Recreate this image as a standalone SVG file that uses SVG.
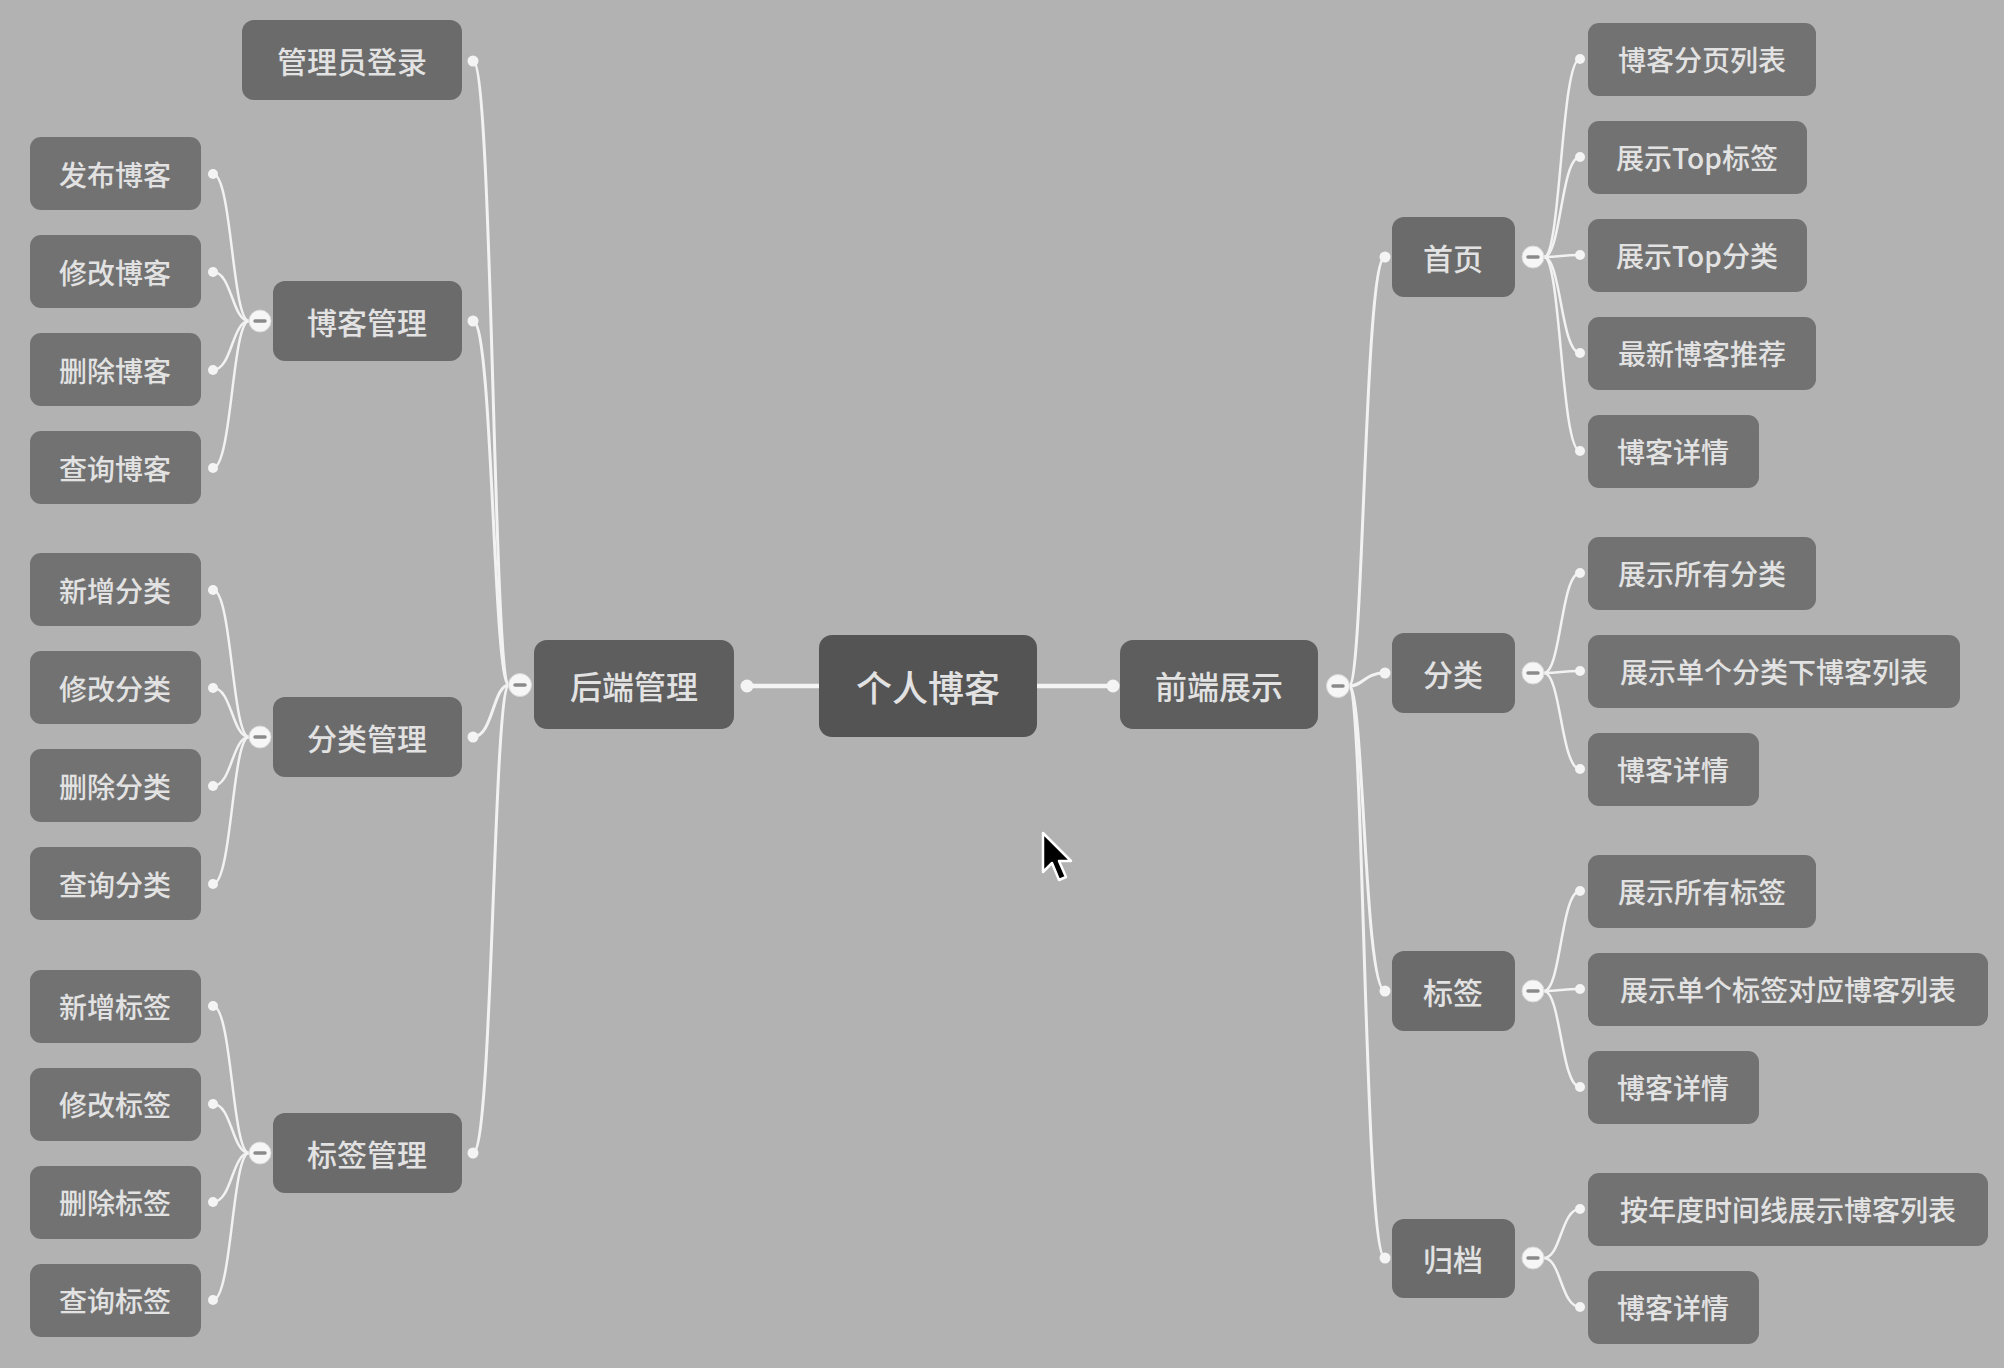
<svg xmlns="http://www.w3.org/2000/svg" width="2004" height="1368" viewBox="0 0 2004 1368">
<style>
.bg{fill:#b2b2b2}
.n0{fill:#545454}
.n1{fill:#5e5e5e}
.n2{fill:#6b6b6b}
.lf{fill:#727272}
text{font-family:"Noto Sans CJK SC","Noto Sans CJK TC",sans-serif;font-weight:500;fill:#e2e2e2;text-anchor:middle;dominant-baseline:central}
.t0{font-size:36px}
.t1{font-size:32px}
.t2{font-size:30px}
.tl{font-size:28px}
.c{fill:none;stroke:#f2f2f2;stroke-width:2.5}
.cm{fill:none;stroke:#f2f2f2;stroke-width:3}
.ct{fill:none;stroke:#f4f4f4;stroke-width:4.5}
.dot{fill:#f4f4f4}
.col{fill:#f6f6f6;stroke:#d8d8d8;stroke-width:1}
.minus{stroke:#8a8a8a;stroke-width:3.5;stroke-linecap:round}
</style>
<rect class="bg" x="0" y="0" width="2004" height="1368"/>

<g id="connectors">
  <line class="ct" x1="747" y1="686" x2="819" y2="686"/>
  <line class="ct" x1="1037" y1="686" x2="1113" y2="686"/>
  <circle class="dot" cx="747" cy="686" r="6.5"/>
  <circle class="dot" cx="1113" cy="686" r="6.5"/>
  <path class="cm" d="M509 685 C493 685 493 61 473 61"/>
  <path class="cm" d="M509 685 C493 685 493 321 473 321"/>
  <path class="cm" d="M509 685 C493 685 493 737 473 737"/>
  <path class="cm" d="M509 685 C493 685 493 1153 473 1153"/>
  <circle class="dot" cx="473" cy="61" r="5.5"/>
  <circle class="dot" cx="473" cy="321" r="5.5"/>
  <circle class="dot" cx="473" cy="737" r="5.5"/>
  <circle class="dot" cx="473" cy="1153" r="5.5"/>
  <path class="c" d="M249 321 C232 321 232 174 213 174"/>
  <path class="c" d="M249 321 C232 321 232 272 213 272"/>
  <path class="c" d="M249 321 C232 321 232 370 213 370"/>
  <path class="c" d="M249 321 C232 321 232 468 213 468"/>
  <circle class="dot" cx="213" cy="174" r="5"/>
  <circle class="dot" cx="213" cy="272" r="5"/>
  <circle class="dot" cx="213" cy="370" r="5"/>
  <circle class="dot" cx="213" cy="468" r="5"/>
  <path class="c" d="M249 737 C232 737 232 590 213 590"/>
  <path class="c" d="M249 737 C232 737 232 688 213 688"/>
  <path class="c" d="M249 737 C232 737 232 786 213 786"/>
  <path class="c" d="M249 737 C232 737 232 884 213 884"/>
  <circle class="dot" cx="213" cy="590" r="5"/>
  <circle class="dot" cx="213" cy="688" r="5"/>
  <circle class="dot" cx="213" cy="786" r="5"/>
  <circle class="dot" cx="213" cy="884" r="5"/>
  <path class="c" d="M249 1153 C232 1153 232 1006 213 1006"/>
  <path class="c" d="M249 1153 C232 1153 232 1104 213 1104"/>
  <path class="c" d="M249 1153 C232 1153 232 1202 213 1202"/>
  <path class="c" d="M249 1153 C232 1153 232 1300 213 1300"/>
  <circle class="dot" cx="213" cy="1006" r="5"/>
  <circle class="dot" cx="213" cy="1104" r="5"/>
  <circle class="dot" cx="213" cy="1202" r="5"/>
  <circle class="dot" cx="213" cy="1300" r="5"/>
  <path class="cm" d="M1349 686 C1364 686 1364 257 1385 257"/>
  <path class="cm" d="M1349 686 C1364 686 1364 673 1385 673"/>
  <path class="cm" d="M1349 686 C1364 686 1364 991 1385 991"/>
  <path class="cm" d="M1349 686 C1364 686 1364 1258 1385 1258"/>
  <circle class="dot" cx="1385" cy="257" r="5.5"/>
  <circle class="dot" cx="1385" cy="673" r="5.5"/>
  <circle class="dot" cx="1385" cy="991" r="5.5"/>
  <circle class="dot" cx="1385" cy="1258" r="5.5"/>
  <path class="c" d="M1544 257 C1561 257 1561 59 1580 59"/>
  <path class="c" d="M1544 257 C1561 257 1561 157 1580 157"/>
  <path class="c" d="M1544 257 C1561 257 1561 255 1580 255"/>
  <path class="c" d="M1544 257 C1561 257 1561 353 1580 353"/>
  <path class="c" d="M1544 257 C1561 257 1561 451 1580 451"/>
  <circle class="dot" cx="1580" cy="59" r="5"/>
  <circle class="dot" cx="1580" cy="157" r="5"/>
  <circle class="dot" cx="1580" cy="255" r="5"/>
  <circle class="dot" cx="1580" cy="353" r="5"/>
  <circle class="dot" cx="1580" cy="451" r="5"/>
  <path class="c" d="M1544 673 C1561 673 1561 573 1580 573"/>
  <path class="c" d="M1544 673 C1561 673 1561 671 1580 671"/>
  <path class="c" d="M1544 673 C1561 673 1561 769 1580 769"/>
  <circle class="dot" cx="1580" cy="573" r="5"/>
  <circle class="dot" cx="1580" cy="671" r="5"/>
  <circle class="dot" cx="1580" cy="769" r="5"/>
  <path class="c" d="M1544 991 C1561 991 1561 891 1580 891"/>
  <path class="c" d="M1544 991 C1561 991 1561 989 1580 989"/>
  <path class="c" d="M1544 991 C1561 991 1561 1087 1580 1087"/>
  <circle class="dot" cx="1580" cy="891" r="5"/>
  <circle class="dot" cx="1580" cy="989" r="5"/>
  <circle class="dot" cx="1580" cy="1087" r="5"/>
  <path class="c" d="M1544 1258 C1561 1258 1561 1209 1580 1209"/>
  <path class="c" d="M1544 1258 C1561 1258 1561 1307 1580 1307"/>
  <circle class="dot" cx="1580" cy="1209" r="5"/>
  <circle class="dot" cx="1580" cy="1307" r="5"/>
</g>

<g id="root"><rect class="n0" x="819" y="635" width="218" height="102" rx="13"/><text class="t0" x="928" y="686">个人博客</text></g>

<g id="backend"><rect class="n1" x="534" y="640" width="200" height="89" rx="13"/><text class="t1" x="634" y="685">后端管理</text>
<circle class="col" cx="520" cy="685" r="11.5"/><line class="minus" x1="515" y1="685" x2="525" y2="685"/></g>
<g id="frontend"><rect class="n1" x="1120" y="640" width="198" height="89" rx="13"/><text class="t1" x="1219" y="685">前端展示</text>
<circle class="col" cx="1338" cy="686" r="11.5"/><line class="minus" x1="1333" y1="686" x2="1343" y2="686"/></g>

<g id="admin-login"><rect class="n2" x="242" y="20" width="220" height="80" rx="12"/><text class="t2" x="352" y="60">管理员登录</text></g>
<g id="blog-mgmt"><rect class="n2" x="273" y="281" width="189" height="80" rx="12"/><text class="t2" x="367" y="321">博客管理</text>
<circle class="col" cx="260" cy="321" r="11"/><line class="minus" x1="255" y1="321" x2="265" y2="321"/></g>
<g id="cat-mgmt"><rect class="n2" x="273" y="697" width="189" height="80" rx="12"/><text class="t2" x="367" y="737">分类管理</text>
<circle class="col" cx="260" cy="737" r="11"/><line class="minus" x1="255" y1="737" x2="265" y2="737"/></g>
<g id="tag-mgmt"><rect class="n2" x="273" y="1113" width="189" height="80" rx="12"/><text class="t2" x="367" y="1153">标签管理</text>
<circle class="col" cx="260" cy="1153" r="11"/><line class="minus" x1="255" y1="1153" x2="265" y2="1153"/></g>

<g id="blog-add"><rect class="lf" x="30" y="137" width="171" height="73" rx="11"/><text class="tl" x="115" y="174">发布博客</text></g>
<g id="blog-edit"><rect class="lf" x="30" y="235" width="171" height="73" rx="11"/><text class="tl" x="115" y="272">修改博客</text></g>
<g id="blog-del"><rect class="lf" x="30" y="333" width="171" height="73" rx="11"/><text class="tl" x="115" y="370">删除博客</text></g>
<g id="blog-query"><rect class="lf" x="30" y="431" width="171" height="73" rx="11"/><text class="tl" x="115" y="468">查询博客</text></g>

<g id="cat-add"><rect class="lf" x="30" y="553" width="171" height="73" rx="11"/><text class="tl" x="115" y="590">新增分类</text></g>
<g id="cat-edit"><rect class="lf" x="30" y="651" width="171" height="73" rx="11"/><text class="tl" x="115" y="688">修改分类</text></g>
<g id="cat-del"><rect class="lf" x="30" y="749" width="171" height="73" rx="11"/><text class="tl" x="115" y="786">删除分类</text></g>
<g id="cat-query"><rect class="lf" x="30" y="847" width="171" height="73" rx="11"/><text class="tl" x="115" y="884">查询分类</text></g>

<g id="tag-add"><rect class="lf" x="30" y="970" width="171" height="73" rx="11"/><text class="tl" x="115" y="1006">新增标签</text></g>
<g id="tag-edit"><rect class="lf" x="30" y="1068" width="171" height="73" rx="11"/><text class="tl" x="115" y="1104">修改标签</text></g>
<g id="tag-del"><rect class="lf" x="30" y="1166" width="171" height="73" rx="11"/><text class="tl" x="115" y="1202">删除标签</text></g>
<g id="tag-query"><rect class="lf" x="30" y="1264" width="171" height="73" rx="11"/><text class="tl" x="115" y="1300">查询标签</text></g>

<g id="home"><rect class="n2" x="1392" y="217" width="123" height="80" rx="12"/><text class="t2" x="1453" y="257">首页</text>
<circle class="col" cx="1533" cy="257" r="11"/><line class="minus" x1="1528" y1="257" x2="1538" y2="257"/></g>
<g id="category"><rect class="n2" x="1392" y="633" width="123" height="80" rx="12"/><text class="t2" x="1453" y="673">分类</text>
<circle class="col" cx="1533" cy="673" r="11"/><line class="minus" x1="1528" y1="673" x2="1538" y2="673"/></g>
<g id="tag"><rect class="n2" x="1392" y="951" width="123" height="80" rx="12"/><text class="t2" x="1453" y="991">标签</text>
<circle class="col" cx="1533" cy="991" r="11"/><line class="minus" x1="1528" y1="991" x2="1538" y2="991"/></g>
<g id="archive"><rect class="n2" x="1392" y="1219" width="123" height="79" rx="12"/><text class="t2" x="1453" y="1258">归档</text>
<circle class="col" cx="1533" cy="1258" r="11"/><line class="minus" x1="1528" y1="1258" x2="1538" y2="1258"/></g>

<g id="home-list"><rect class="lf" x="1588" y="23" width="228" height="73" rx="11"/><text class="tl" x="1702" y="59">博客分页列表</text></g>
<g id="home-toptag"><rect class="lf" x="1588" y="121" width="219" height="73" rx="11"/><text class="tl" x="1697" y="157">展示Top标签</text></g>
<g id="home-topcat"><rect class="lf" x="1588" y="219" width="219" height="73" rx="11"/><text class="tl" x="1697" y="255">展示Top分类</text></g>
<g id="home-latest"><rect class="lf" x="1588" y="317" width="228" height="73" rx="11"/><text class="tl" x="1702" y="353">最新博客推荐</text></g>
<g id="home-detail"><rect class="lf" x="1588" y="415" width="171" height="73" rx="11"/><text class="tl" x="1673" y="451">博客详情</text></g>

<g id="cat-all"><rect class="lf" x="1588" y="537" width="228" height="73" rx="11"/><text class="tl" x="1702" y="573">展示所有分类</text></g>
<g id="cat-list"><rect class="lf" x="1588" y="635" width="372" height="73" rx="11"/><text class="tl" x="1774" y="671">展示单个分类下博客列表</text></g>
<g id="cat-detail"><rect class="lf" x="1588" y="733" width="171" height="73" rx="11"/><text class="tl" x="1673" y="769">博客详情</text></g>

<g id="tag-all"><rect class="lf" x="1588" y="855" width="228" height="73" rx="11"/><text class="tl" x="1702" y="891">展示所有标签</text></g>
<g id="tag-list"><rect class="lf" x="1588" y="953" width="400" height="73" rx="11"/><text class="tl" x="1788" y="989">展示单个标签对应博客列表</text></g>
<g id="tag-detail"><rect class="lf" x="1588" y="1051" width="171" height="73" rx="11"/><text class="tl" x="1673" y="1087">博客详情</text></g>

<g id="archive-list"><rect class="lf" x="1588" y="1173" width="400" height="73" rx="11"/><text class="tl" x="1788" y="1209">按年度时间线展示博客列表</text></g>
<g id="archive-detail"><rect class="lf" x="1588" y="1271" width="171" height="73" rx="11"/><text class="tl" x="1673" y="1307">博客详情</text></g>

<path d="M1043 833 L1043 872 L1052 863 L1059 880 L1066 877 L1059 861 L1071 861 Z" fill="#000" stroke="#fff" stroke-width="2.5" stroke-linejoin="round"/>
</svg>
